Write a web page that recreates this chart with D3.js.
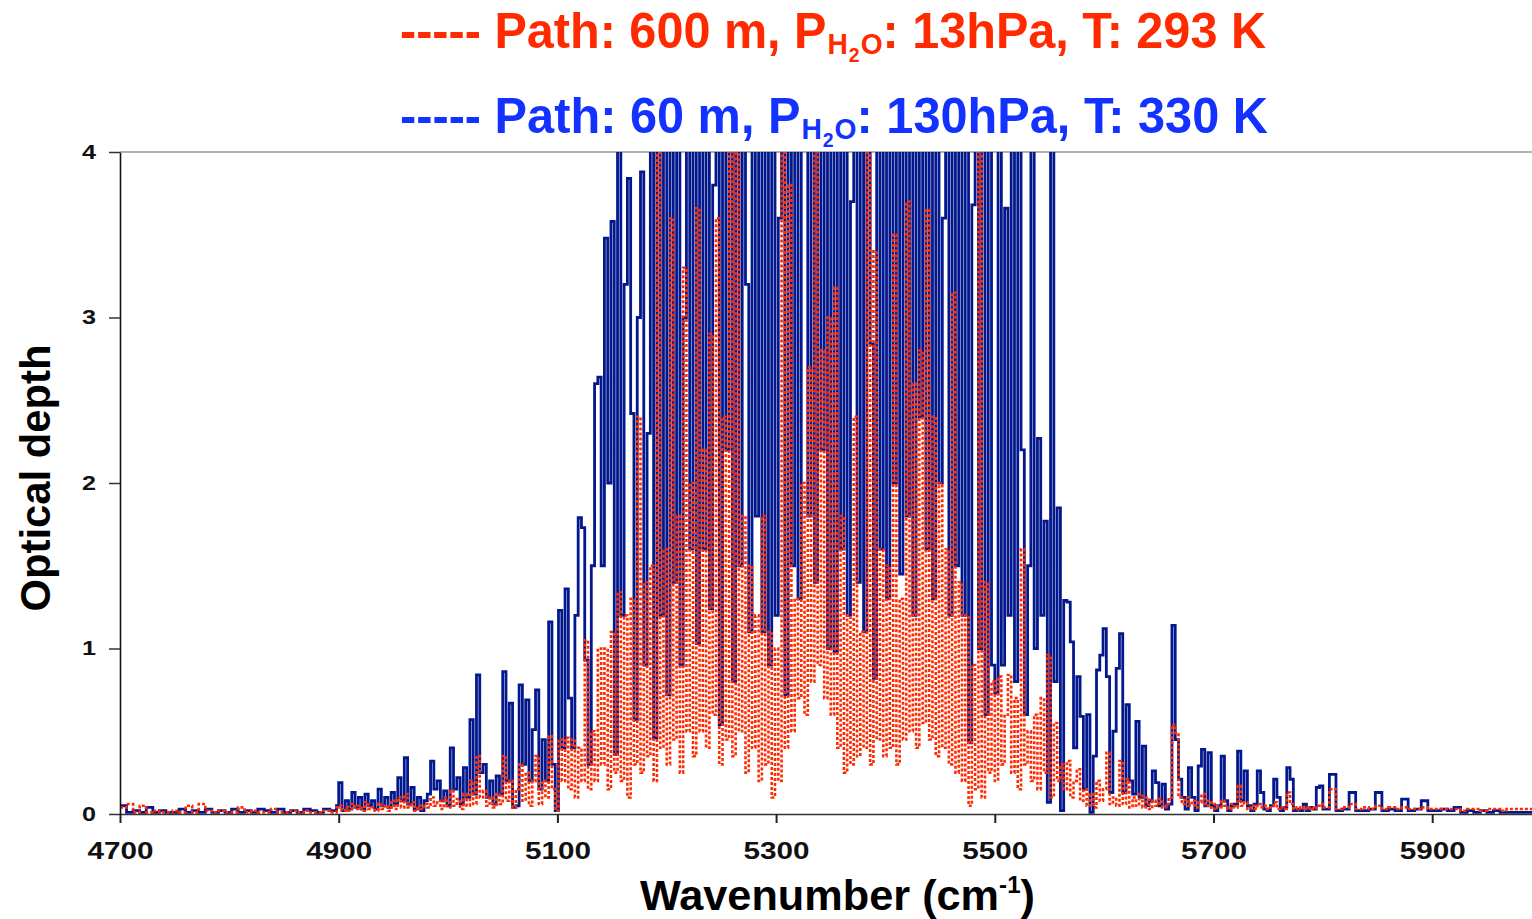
<!DOCTYPE html>
<html>
<head>
<meta charset="utf-8">
<script src="https://cdn.jsdelivr.net/npm/d3@7/dist/d3.min.js"></script>
<style>
  body { margin: 0; background: #fff; }
  svg { display: block; }
  text { font-family: "Liberation Sans", Arial, sans-serif; font-weight: bold; }
</style>
</head>
<body>
<svg id="chart" width="1532" height="919"></svg>
<script>
// Sampling grid (cm-1): wings every 6, absorption band every 3
const wingWavenumbers = d3.range(4700, 4900, 6);
const bandWavenumbers = d3.range(4900, 5800, 3);
const tailWavenumbers = d3.range(5800, 6000, 6);

// Axis ticks
const xTicks = [4700, 4900, 5100, 5300, 5500, 5700, 5900];
const yTicks = [0, 1, 2, 3, 4];

// Blue series: 60 m, 130 hPa, 330 K (optical depth)
const blueWing = [0.05,0.01,0.02,0.01,0.04,0.01,0.02,0.01,0.01,0.03,0.01,0.02,0.01,0.03,0.01,0.02,0.01,
  0.03,0.01,0.02,0.01,0.03,0.02,0.01,0.03,0.01,0.02,0.01,0.03,0.02,0.01,0.03,0.02,0.05];
const blueBand = [
  0.19,0.02,0.08,0.03,0.13,0.04,0.10,0.03,0.12,0.05,   // 4900
  0.08,0.03,0.15,0.05,0.10,0.04,0.13,0.06,0.22,0.08,   // 4930
  0.34,0.06,0.16,0.03,0.10,0.02,0.08,0.12,0.32,0.15,   // 4960
  0.20,0.08,0.14,0.05,0.40,0.15,0.22,0.06,0.28,0.10,   // 4990
  0.57,0.12,0.84,0.25,0.30,0.10,0.20,0.06,0.23,0.12,   // 5020
  0.86,0.20,0.67,0.04,0.05,0.78,0.30,0.69,0.20,0.51,   // 5050
  0.75,0.15,0.45,0.20,1.16,0.30,0.02,1.23,0.40,1.36,   // 5080
  0.70,0.40,1.20,1.79,1.73,0.93,0.30,1.50,2.60,2.64,   // 5110
  1.50,3.48,2.00,3.58,0.36,4.4,1.20,3.20,3.84,2.42,    // 5140
  0.57,3.00,3.88,0.90,2.30,4.4,0.46,4.4,1.20,4.4,      // 5170
  0.72,4.4,1.40,4.4,0.90,3.00,4.4,1.60,4.4,1.03,       // 5200
  4.4,1.60,4.4,1.24,3.80,4.4,0.54,4.4,2.20,4.4,        // 5230
  0.80,4.4,1.50,4.4,3.20,1.10,4.4,1.80,4.4,1.10,       // 5260
  4.4,0.90,4.4,1.20,3.60,4.4,0.72,4.4,1.50,4.4,        // 5290
  1.30,4.4,4.4,1.80,4.4,1.40,4.4,2.20,4.4,1.00,        // 5320
  4.4,0.98,4.4,1.60,4.4,1.20,3.70,4.4,1.40,4.4,        // 5350
  1.10,4.4,2.84,0.82,4.4,1.60,4.4,1.30,4.4,2.00,       // 5380
  4.4,1.45,4.4,1.80,4.4,1.20,4.4,2.40,4.4,1.60,        // 5410
  4.4,1.30,4.4,2.00,3.60,4.4,1.20,4.4,1.50,4.4,        // 5440
  1.20,4.4,0.43,3.68,4.4,1.00,4.4,0.60,4.4,0.90,       // 5470
  0.73,4.4,0.90,3.66,1.20,4.4,0.80,4.4,2.20,0.60,      // 5500
  1.50,4.4,1.00,2.27,1.20,1.77,0.07,4.4,0.80,1.85,     // 5530
  0.02,1.29,1.28,1.04,0.40,0.83,0.59,0.15,0.60,0.01,   // 5560
  0.35,0.87,0.96,1.12,0.83,0.13,0.50,0.88,1.09,0.13,   // 5590
  0.66,0.20,0.12,0.56,0.10,0.41,0.05,0.08,0.26,0.19,   // 5620
  0.05,0.18,0.03,0.06,1.14,0.45,0.21,0.10,0.03,0.28,   // 5650
  0.10,0.02,0.29,0.39,0.05,0.37,0.05,0.02,0.05,0.35,   // 5680
  0.08,0.02,0.05,0.06,0.38,0.08,0.26,0.05,0.02,0.06,   // 5710
  0.26,0.13,0.03,0.02,0.05,0.21,0.10,0.02,0.04,0.28,   // 5740
  0.21,0.02,0.03,0.02,0.06,0.02,0.04,0.03,0.16,0.17    // 5770
];
const blueTail = [0.03,0.24,0.02,0.03,0.13,0.02,0.02,0.03,0.13,0.02,0.03,0.02,0.09,0.02,0.03,0.08,0.02,
  0.02,0.03,0.02,0.04,0.01,0.02,0.01,0.02,0.01,0.02,0.01,0.01,0.01,0.01,0.01,0.01,0.01];

// Red series: 600 m, 13 hPa, 293 K (optical depth)
const redWing = [0.04,0.06,0.01,0.05,0.01,0.02,0.01,0.01,0.02,0.01,0.05,0.01,0.06,0.02,0.01,0.02,0.01,
  0.01,0.04,0.01,0.02,0.01,0.01,0.03,0.01,0.01,0.02,0.01,0.02,0.01,0.01,0.02,0.01,0.04];
const redBand = [
  0.05,0.02,0.04,0.02,0.06,0.03,0.05,0.02,0.07,0.03,   // 4900
  0.04,0.02,0.06,0.03,0.05,0.02,0.08,0.03,0.10,0.04,   // 4930
  0.12,0.04,0.07,0.02,0.05,0.03,0.06,0.04,0.10,0.05,   // 4960
  0.08,0.03,0.10,0.04,0.14,0.05,0.09,0.03,0.12,0.05,   // 4990
  0.20,0.06,0.35,0.10,0.14,0.05,0.10,0.04,0.12,0.06,   // 5020
  0.35,0.08,0.20,0.04,0.15,0.30,0.08,0.25,0.05,0.20,   // 5050
  0.35,0.06,0.20,0.10,0.47,0.15,0.02,0.45,0.20,0.46,   // 5080
  0.15,0.45,0.10,0.40,0.20,1.05,0.15,0.50,0.20,1.00,   // 5110
  0.30,1.00,0.15,1.10,0.25,1.34,0.20,1.20,0.10,1.30,   // 5140
  0.30,2.40,0.25,1.40,0.35,1.50,0.20,4.4,0.40,1.60,    // 5170
  0.30,3.60,0.45,1.80,0.25,3.30,0.50,2.00,0.35,3.66,   // 5200
  0.50,2.20,0.40,2.90,0.60,3.60,0.30,2.40,0.45,4.4,    // 5230
  0.35,4.4,0.50,1.80,0.25,1.50,0.40,1.20,0.20,1.80,    // 5260
  0.30,1.10,0.10,1.00,0.20,4.4,0.40,3.80,0.50,1.30,    // 5290
  0.70,2.00,0.60,2.70,0.80,4.4,0.90,2.80,0.70,3.00,    // 5320
  0.60,3.18,0.40,1.80,0.25,1.20,0.30,2.40,0.35,1.10,   // 5350
  0.40,4.4,0.30,3.40,0.45,1.60,0.35,1.50,0.40,3.50,    // 5380
  0.30,1.30,0.45,3.70,0.50,2.60,0.40,2.80,0.55,3.65,   // 5410
  0.45,2.40,0.35,2.00,0.40,1.60,0.30,3.15,0.25,1.40,   // 5440
  0.20,1.20,0.05,0.90,0.15,4.4,0.10,1.40,0.25,0.80,    // 5470
  0.20,0.83,0.30,0.60,0.84,0.25,0.70,0.15,1.60,0.30,   // 5500
  0.50,0.20,0.60,0.15,0.70,0.25,0.96,0.10,0.55,0.20,   // 5530
  0.30,0.15,0.32,0.10,0.20,0.27,0.08,0.15,0.05,0.12,   // 5560
  0.04,0.20,0.08,0.15,0.37,0.06,0.10,0.05,0.32,0.06,   // 5590
  0.21,0.04,0.10,0.05,0.12,0.04,0.10,0.03,0.08,0.05,   // 5620
  0.09,0.04,0.06,0.10,0.54,0.49,0.10,0.06,0.10,0.05,   // 5650
  0.08,0.04,0.07,0.12,0.05,0.08,0.03,0.06,0.04,0.08,   // 5680
  0.05,0.03,0.06,0.04,0.17,0.05,0.07,0.03,0.05,0.03,   // 5710
  0.06,0.04,0.05,0.03,0.04,0.07,0.03,0.04,0.03,0.13,   // 5740
  0.06,0.03,0.04,0.03,0.04,0.03,0.04,0.03,0.05,0.06    // 5770
];
const redTail = [0.04,0.15,0.03,0.04,0.06,0.03,0.04,0.03,0.05,0.03,0.04,0.03,0.04,0.03,0.03,0.04,0.03,
  0.03,0.03,0.03,0.03,0.02,0.03,0.03,0.02,0.03,0.03,0.02,0.03,0.03,0.03,0.03,0.03,0.03];

// Join grid and values into [wavenumber, depth] points
function buildSeries(wing, band, tail) {
  const pts = [];
  wingWavenumbers.forEach((wn, i) => pts.push([wn, wing[i]]));
  bandWavenumbers.forEach((wn, i) => pts.push([wn, band[i]]));
  tailWavenumbers.forEach((wn, i) => pts.push([wn, tail[i]]));
  return pts;
}

const blueSeries = buildSeries(blueWing, blueBand, blueTail);
const redSeries = buildSeries(redWing, redBand, redTail);

const svg = d3.select("#chart");
const plotLeft = 120, plotTop = 152, plotBottom = 814;

const x = d3.scaleLinear().domain([4700, 6000]).range([plotLeft, plotLeft + 1300 * 1.0935]);
const y = d3.scaleLinear().domain([0, 4]).range([plotBottom, plotTop]);

// Clip the spectra to the plot area
svg.append("defs").append("clipPath").attr("id", "plotClip")
  .append("rect")
  .attr("x", plotLeft)
  .attr("y", plotTop)
  .attr("width", 1532 - plotLeft)
  .attr("height", plotBottom - plotTop + 2);

// Top frame line
svg.append("line")
  .attr("x1", plotLeft).attr("x2", 1532)
  .attr("y1", plotTop).attr("y2", plotTop)
  .attr("stroke", "#9a9a9a")
  .attr("stroke-width", 1.5);

// Spectra drawn as steps, like the instrument output
const line = d3.line()
  .x(d => x(d[0]))
  .y(d => y(d[1]))
  .curve(d3.curveStepAfter);

const spectra = svg.append("g").attr("clip-path", "url(#plotClip)");

spectra.append("path")
  .datum(blueSeries)
  .attr("d", line)
  .attr("fill", "none")
  .attr("stroke", "#03188d")
  .attr("stroke-width", 2.8);

spectra.append("path")
  .datum(redSeries)
  .attr("d", line)
  .attr("fill", "none")
  .attr("stroke", "#ff2a00")
  .attr("stroke-width", 2.6)
  .attr("stroke-dasharray", "3,2");

// X axis
const xAxis = svg.append("g")
  .attr("transform", `translate(0,${plotBottom})`)
  .call(d3.axisBottom(x).tickValues(xTicks).tickFormat(d3.format("d")).tickSize(9).tickPadding(19).tickSizeOuter(0));
xAxis.select(".domain").attr("stroke", "#333").attr("stroke-width", 1.6);
xAxis.selectAll(".tick line").attr("stroke", "#222").attr("stroke-width", 2);
xAxis.selectAll(".tick text")
  .attr("font-size", 24)
  .attr("fill", "#111")
  .attr("textLength", 66)
  .attr("lengthAdjust", "spacingAndGlyphs");

// Y axis
const yAxis = svg.append("g")
  .attr("transform", `translate(${plotLeft},0)`)
  .call(d3.axisLeft(y).tickValues(yTicks).tickFormat(d3.format("d")).tickSize(11).tickPadding(13).tickSizeOuter(0));
yAxis.select(".domain").attr("stroke", "#111").attr("stroke-width", 1.6);
yAxis.selectAll(".tick line").attr("stroke", "#333").attr("stroke-width", 1.5);
yAxis.selectAll(".tick text")
  .attr("font-size", 20)
  .attr("fill", "#111")
  .attr("textLength", 14)
  .attr("lengthAdjust", "spacingAndGlyphs");

// Axis titles
svg.append("text")
  .attr("transform", "translate(50,478) rotate(-90)")
  .attr("text-anchor", "middle")
  .attr("font-size", 42)
  .attr("textLength", 267)
  .attr("lengthAdjust", "spacingAndGlyphs")
  .text("Optical depth");

const xTitle = svg.append("text")
  .attr("x", 640)
  .attr("y", 910)
  .attr("font-size", 43)
  .attr("textLength", 395)
  .attr("lengthAdjust", "spacingAndGlyphs");
xTitle.append("tspan").text("Wavenumber (cm");
xTitle.append("tspan").attr("font-size", 24).attr("dy", -17).text("-1");
xTitle.append("tspan").attr("dy", 17).text(")");

// Legend titles above the plot
function legendLine(yPos, color, path, pressure, temp, width) {
  const t = svg.append("text")
    .attr("x", 400)
    .attr("y", yPos)
    .attr("fill", color)
    .attr("font-size", 50)
    .attr("textLength", width)
    .attr("lengthAdjust", "spacingAndGlyphs");
  t.append("tspan").text(`----- Path: ${path}, P`);
  t.append("tspan").attr("font-size", 29).attr("dx", 1).attr("dy", 6).text("H");
  t.append("tspan").attr("font-size", 20).attr("dx", 1).attr("dy", 8).text("2");
  t.append("tspan").attr("font-size", 29).attr("dx", 1).attr("dy", -8).text("O");
  t.append("tspan").attr("dy", -6).text(`: ${pressure}, T: ${temp}`);
}

legendLine(48, "#ff2a00", "600 m", "13hPa", "293 K", 866);
legendLine(133, "#1432ff", "60 m", "130hPa", "330 K", 868);
</script>
</body>
</html>
